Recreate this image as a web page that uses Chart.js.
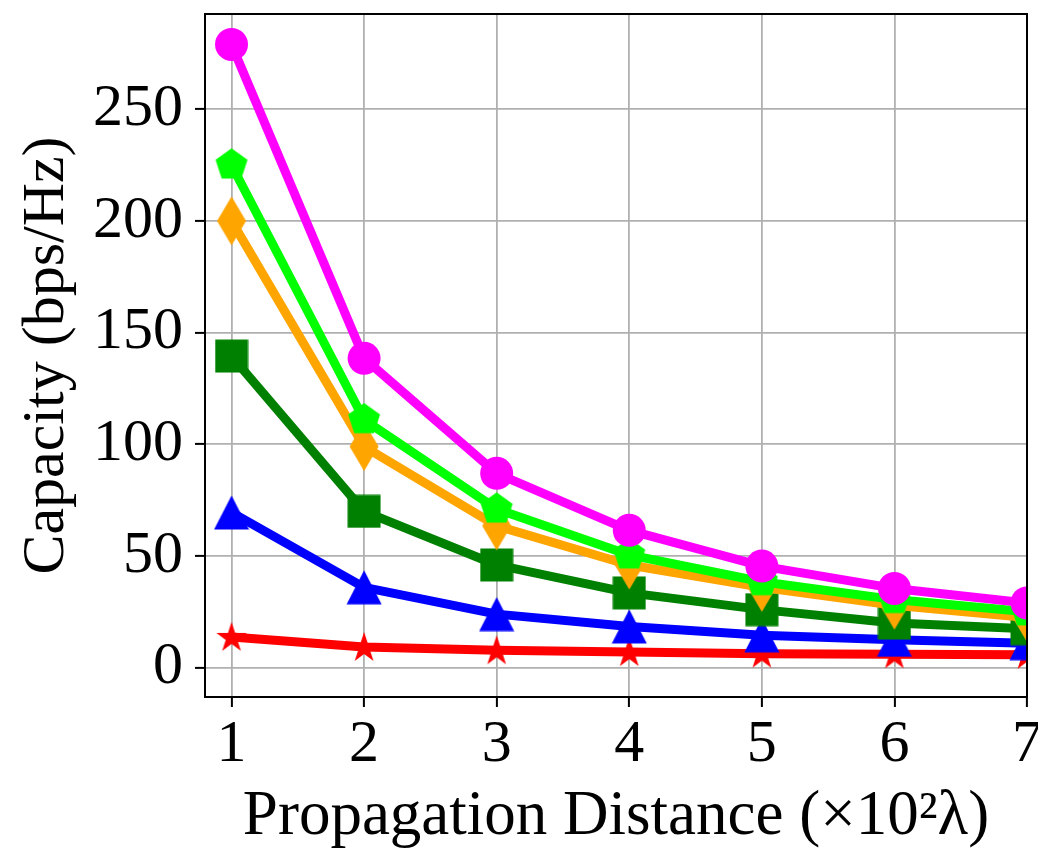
<!DOCTYPE html>
<html>
<head>
<meta charset="utf-8">
<script src="https://cdn.jsdelivr.net/npm/chart.js@4/dist/chart.umd.min.js"></script>
<style>
  body { margin: 0; background: #fff; }
  #wrap { width: 1038px; height: 851px; }
</style>
</head>
<body>
<div id="wrap"><canvas id="chart" width="1038" height="851"></canvas></div>
<script>
// data
const distance = [1, 2, 3, 4, 5, 6, 7];
const magentaCap = [279, 138.5, 87, 61.5, 45.5, 35.5, 29];
const limeCap = [225, 111, 71, 50.5, 38.5, 30.5, 25];
const orangeCap = [200, 99, 63.5, 46, 36, 28, 22.5];
const darkGreenCap = [139.5, 70, 46, 33.5, 26, 20, 17.5];
const blueCap = [69.5, 36, 24, 18.5, 14.5, 12.5, 11];
const redCap = [13.8, 9.3, 7.8, 7, 6.3, 6, 5.8];
const xTicks = [1, 2, 3, 4, 5, 6, 7];
const yTicks = [0, 50, 100, 150, 200, 250];

// marker images drawn on small canvases
function makeMarker(shape, color) {
    let c = document.createElement("canvas");
    let w, h;
    if (shape === "pentagon") { w = 34; h = 34; }
    else if (shape === "thinDiamond") { w = 30; h = 50; }
    else if (shape === "star") { w = 34; h = 34; }
    else if (shape === "triangle") { w = 36; h = 35; }
    else { w = 34; h = 34; }
    c.width = w; c.height = h;
    let g = c.getContext("2d");
    g.fillStyle = color;
    g.beginPath();
    let cx = w / 2, cy = h / 2;
    if (shape === "pentagon") {
        let R = 16.8;
        for (let i = 0; i < 5; i++) {
            let a = -Math.PI / 2 + i * 2 * Math.PI / 5;
            g.lineTo(cx + R * Math.cos(a), cy + R * Math.sin(a));
        }
    } else if (shape === "thinDiamond") {
        g.moveTo(cx, 0.5); g.lineTo(w - 0.5, cy); g.lineTo(cx, h - 0.5); g.lineTo(0.5, cy);
    } else if (shape === "star") {
        let R = 16, r = 16 * 0.382;
        for (let i = 0; i < 10; i++) {
            let a = -Math.PI / 2 + i * Math.PI / 5;
            let rr = i % 2 === 0 ? R : r;
            g.lineTo(cx + rr * Math.cos(a), cy + 1 + rr * Math.sin(a));
        }
    } else if (shape === "triangle") {
        g.moveTo(cx, 0.5); g.lineTo(w - 0.5, h - 0.5); g.lineTo(0.5, h - 0.5);
    } else {
        g.rect(0.5, 0.5, w - 1, h - 1);
    }
    g.closePath();
    g.fill();
    return c;
}

function series(values, color, style, radius) {
    return {
        data: distance.map((d, i) => ({x: d, y: values[i]})),
        borderColor: color,
        backgroundColor: color,
        borderWidth: 9,
        pointStyle: style,
        pointRadius: radius,
        pointBorderWidth: 0,
        pointBackgroundColor: color,
        borderJoinStyle: "round",
        borderCapStyle: "round",
        tension: 0,
        clip: 0
    };
}

const frame = {
    id: "frame",
    afterDatasetsDraw(chart) {
        const {ctx, chartArea: {left, top, right, bottom}} = chart;
        ctx.save();
        ctx.strokeStyle = "#000";
        ctx.lineWidth = 2;
        ctx.strokeRect(left, top, right - left, bottom - top);
        ctx.restore();
    }
};

const serif = "'Liberation Serif', 'Times New Roman', serif";

new Chart(document.getElementById("chart").getContext("2d"), {
    type: "line",
    data: {
        datasets: [
            series(magentaCap, "#ff00ff", "circle", 16.5),
            series(limeCap, "#00ff00", makeMarker("pentagon", "#00ff00"), 17),
            series(orangeCap, "#ffa500", makeMarker("thinDiamond", "#ffa500"), 17),
            series(darkGreenCap, "#008000", makeMarker("square", "#008000"), 17),
            series(blueCap, "#0000ff", makeMarker("triangle", "#0000ff"), 17),
            series(redCap, "#ff0000", makeMarker("star", "#ff0000"), 16)
        ]
    },
    options: {
        responsive: false,
        animation: false,
        layout: { autoPadding: false, padding: { top: 14, right: 11, left: 0, bottom: 0 } },
        plugins: { legend: { display: false }, tooltip: { enabled: false } },
        scales: {
            x: {
                type: "linear",
                min: 0.8,
                max: 7.0,
                afterBuildTicks: s => { s.ticks = xTicks.map(v => ({value: v})); },
                afterFit: s => { s.height = 154; s.paddingLeft = 0; s.paddingRight = 0; },
                grid: { color: "#b0b0b0", lineWidth: 1.8, tickColor: "#000", tickLength: 10, tickWidth: 2 },
                border: { display: false },
                ticks: { color: "#000", font: { family: serif, size: 60 }, padding: 2, maxRotation: 0 },
                title: {
                    display: true,
                    text: "Propagation Distance (\u00d710\u00b2\u03bb)",
                    color: "#000",
                    font: { family: serif, size: 63, lineHeight: 1 },
                    padding: { top: 0, bottom: 2 }
                }
            },
            y: {
                type: "linear",
                min: -13.1,
                max: 292.6,
                afterBuildTicks: s => { s.ticks = yTicks.map(v => ({value: v})); },
                afterFit: s => { s.width = 205; s.paddingTop = 0; s.paddingBottom = 0; },
                grid: { color: "#b0b0b0", lineWidth: 1.8, tickColor: "#000", tickLength: 10, tickWidth: 2 },
                border: { display: false },
                ticks: { color: "#000", font: { family: serif, size: 60 }, padding: 12 },
                title: {
                    display: true,
                    text: "Capacity (bps/Hz)",
                    color: "#000",
                    font: { family: serif, size: 60, lineHeight: 1 },
                    padding: { top: 17, bottom: 0 }
                }
            }
        }
    },
    plugins: [frame]
});
</script>
</body>
</html>
